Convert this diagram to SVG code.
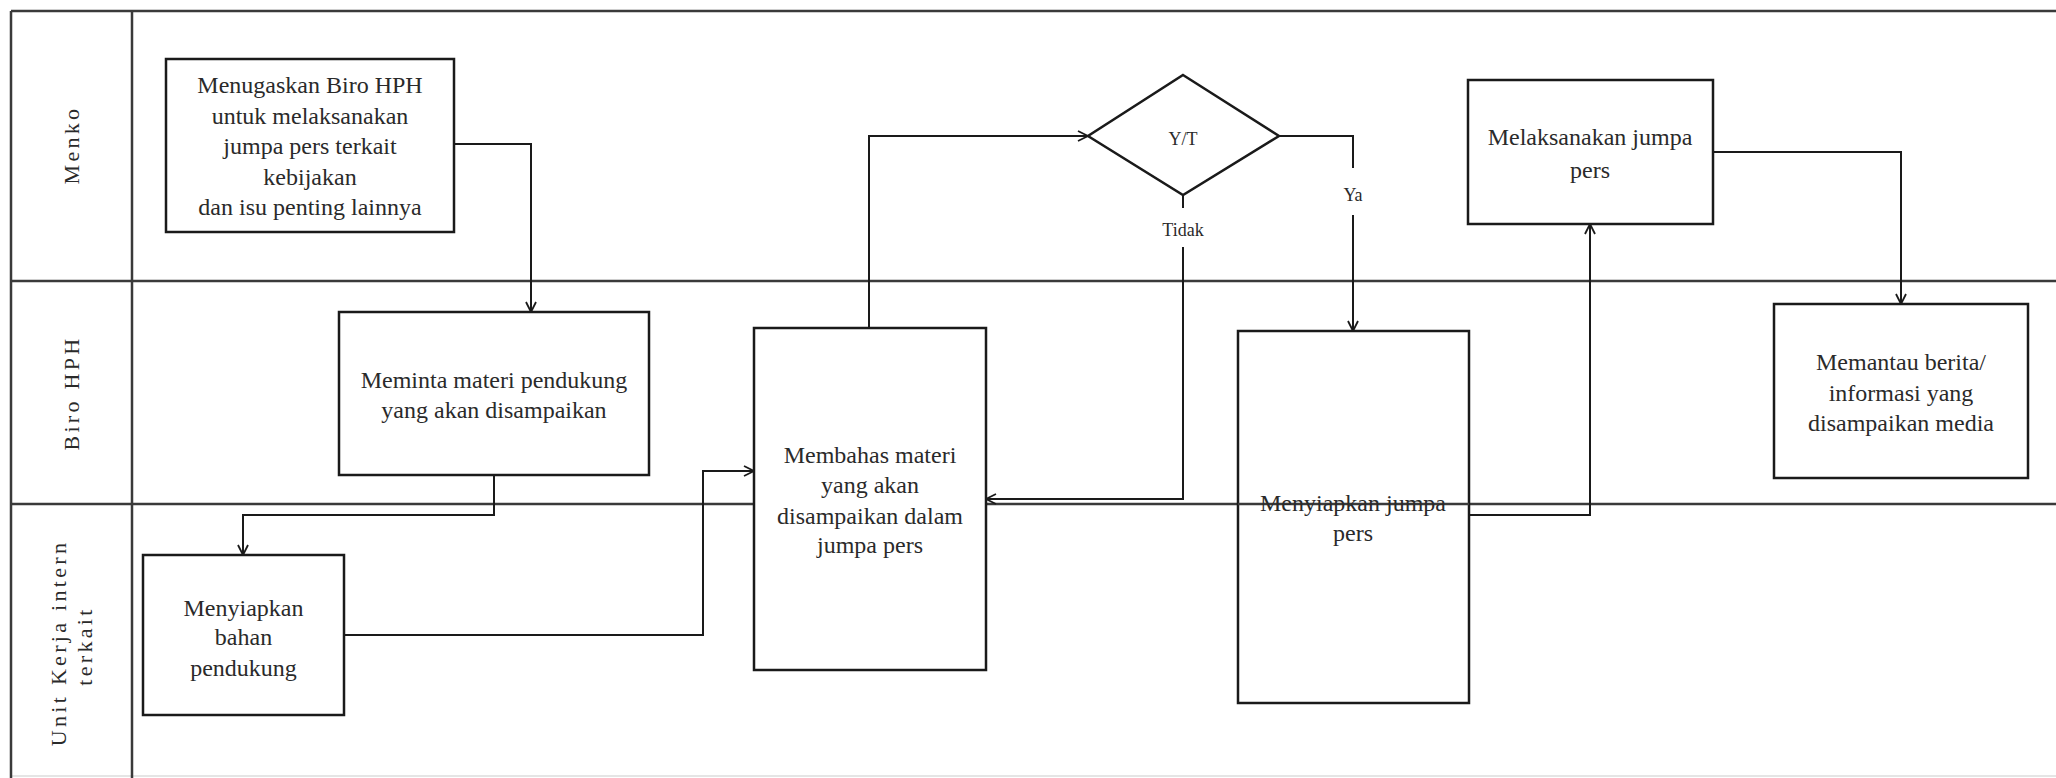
<svg xmlns="http://www.w3.org/2000/svg" width="2056" height="778" viewBox="0 0 2056 778">
<defs>
<style>
.lane{stroke:#3a3a3a;stroke-width:2.5;fill:none}
.box{fill:#fff;stroke:#1a1a1a;stroke-width:2.5}
.t{font-family:"Liberation Serif",serif;font-size:24px;fill:#2a2a2a;text-anchor:middle}
.lbl{font-family:"Liberation Serif",serif;font-size:22px;fill:#2a2a2a;text-anchor:middle;letter-spacing:3.3px}
.small{font-family:"Liberation Serif",serif;font-size:18px;fill:#2a2a2a;text-anchor:middle}
.c{stroke:#1a1a1a;stroke-width:2;fill:none}
.ca{stroke:#1a1a1a;stroke-width:2;fill:none;marker-end:url(#arr)}
</style>
<marker id="arr" viewBox="0 0 12 12" refX="11" refY="6" markerWidth="12" markerHeight="12" markerUnits="userSpaceOnUse" orient="auto">
<path d="M1,1 L11,6 L1,11" fill="none" stroke="#1a1a1a" stroke-width="1.8"/>
</marker>
</defs>
<rect width="2056" height="778" fill="#fff"/>
<g id="lanes">
<line class="lane" x1="11" y1="11" x2="2056" y2="11"/>
<line class="lane" x1="11" y1="281" x2="2056" y2="281"/>
<line class="lane" x1="11" y1="504" x2="2056" y2="504"/>
<line x1="11" y1="776" x2="2056" y2="776" stroke="#ddd" stroke-width="1.5"/>
<line class="lane" x1="11" y1="11" x2="11" y2="778"/>
<line class="lane" x1="132" y1="11" x2="132" y2="778"/>
<text class="lbl" transform="translate(79,145) rotate(-90)">Menko</text>
<text class="lbl" transform="translate(79,393) rotate(-90)">Biro HPH</text>
<text class="lbl" transform="translate(66,643) rotate(-90)">Unit Kerja intern</text>
<text class="lbl" transform="translate(92,646) rotate(-90)">terkait</text>
</g>
<g id="connectors">
<polyline class="ca" points="454,144 531,144 531,312"/>
<polyline class="ca" points="494,475 494,515 243,515 243,555"/>
<polyline class="ca" points="344,635 703,635 703,471 754,471"/>
<polyline class="ca" points="869,328 869,136 1088,136"/>
<polyline class="c" points="1279,136 1353,136 1353,168"/>
<line class="ca" x1="1353" y1="215" x2="1353" y2="331"/>
<line class="c" x1="1183" y1="195" x2="1183" y2="208"/>
<polyline class="ca" points="1183,247 1183,499 986,499"/>
<polyline class="ca" points="1469,515 1590,515 1590,224"/>
<polyline class="ca" points="1713,152 1901,152 1901,304"/>
<text class="small" x="1353" y="201" font-size="17">Ya</text>
<text class="small" x="1183" y="236">Tidak</text>
</g>
<g id="n1">
<rect class="box" x="166" y="59" width="288" height="173"/>
<text class="t" x="310" y="93">Menugaskan Biro HPH</text>
<text class="t" x="310" y="123.5">untuk melaksanakan</text>
<text class="t" x="310" y="154">jumpa pers terkait</text>
<text class="t" x="310" y="184.5">kebijakan</text>
<text class="t" x="310" y="215">dan isu penting lainnya</text>
</g>
<g id="n2">
<rect class="box" x="339" y="312" width="310" height="163"/>
<text class="t" x="494" y="388">Meminta materi pendukung</text>
<text class="t" x="494" y="418">yang akan disampaikan</text>
</g>
<g id="n3">
<rect class="box" x="143" y="555" width="201" height="160"/>
<text class="t" x="243.5" y="616">Menyiapkan</text>
<text class="t" x="243.5" y="645">bahan</text>
<text class="t" x="243.5" y="676">pendukung</text>
</g>
<g id="n4">
<rect class="box" x="754" y="328" width="232" height="342"/>
<text class="t" x="870" y="463">Membahas materi</text>
<text class="t" x="870" y="493">yang akan</text>
<text class="t" x="870" y="524">disampaikan dalam</text>
<text class="t" x="870" y="553">jumpa pers</text>
</g>
<g id="n5">
<polygon points="1183,75 1279,136 1183,195 1088,136" fill="#fff" stroke="#1a1a1a" stroke-width="2.5"/>
<text class="small" x="1183" y="145" font-size="20">Y/T</text>
</g>
<g id="n6">
<rect class="box" x="1238" y="331" width="231" height="372"/>
<line class="lane" x1="1238" y1="504" x2="1469" y2="504"/>
<text class="t" x="1353" y="511">Menyiapkan jumpa</text>
<text class="t" x="1353" y="541">pers</text>
</g>
<g id="n7">
<rect class="box" x="1468" y="80" width="245" height="144"/>
<text class="t" x="1590" y="145">Melaksanakan jumpa</text>
<text class="t" x="1590" y="178">pers</text>
</g>
<g id="n8">
<rect class="box" x="1774" y="304" width="254" height="174"/>
<text class="t" x="1901" y="370">Memantau berita/</text>
<text class="t" x="1901" y="401">informasi yang</text>
<text class="t" x="1901" y="431">disampaikan media</text>
</g>
</svg>
